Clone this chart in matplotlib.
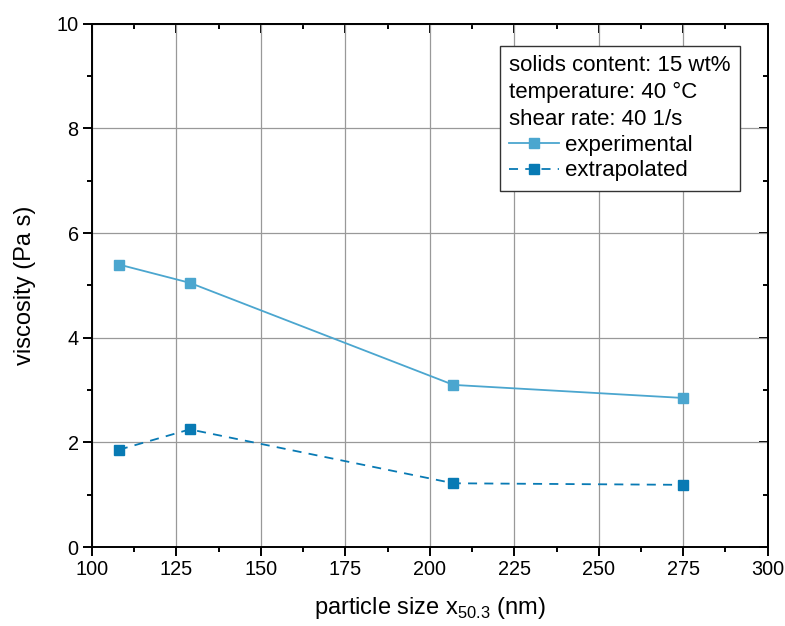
import matplotlib
matplotlib.use('Agg')
import matplotlib.pyplot as plt
from matplotlib.ticker import MultipleLocator

plt.rcParams['font.family'] = ['Liberation Sans', 'DejaVu Sans']
plt.rcParams['mathtext.fontset'] = 'custom'
plt.rcParams['mathtext.rm'] = 'Liberation Sans'

# data
size_nm = [108, 129, 207, 275]
visc_exp = [5.40, 5.05, 3.10, 2.85]
visc_extra = [1.86, 2.25, 1.22, 1.19]

col_exp = '#4ba6cf'
col_extra = '#087ab4'

fig = plt.figure(figsize=(7.85, 6.26), dpi=100)
ax = fig.add_axes([0.117, 0.126, 0.861, 0.836])

ax.plot(size_nm, visc_exp, '-', color=col_exp, lw=1.3, marker='s', ms=7.5,
        label='experimental', zorder=3)
ax.plot(size_nm, visc_extra, color=col_extra, lw=1.3, ls=(0, (5, 4)), marker='s', ms=7.5,
        label='extrapolated', zorder=3)

ax.set_xlim(100, 300)
ax.set_ylim(0, 10)
ax.xaxis.set_major_locator(MultipleLocator(25))
ax.xaxis.set_minor_locator(MultipleLocator(12.5))
ax.yaxis.set_major_locator(MultipleLocator(2))
ax.yaxis.set_minor_locator(MultipleLocator(1))
ax.grid(True, which='major', color='#999999', lw=0.9)
ax.set_axisbelow(True)

ax.tick_params(which='both', direction='out', labelsize=14.3, width=1.4, colors='black', pad=3)
ax.tick_params(which='major', length=6.5)
ax.tick_params(which='minor', length=3.6)
# mirrored ticks on top and right, pointing inward
axt = ax.secondary_xaxis('top')
axt.xaxis.set_major_locator(MultipleLocator(25))
axt.xaxis.set_minor_locator(MultipleLocator(12.5))
axt.tick_params(which='both', direction='in', labeltop=False, width=1.4)
axt.tick_params(which='major', length=6.5)
axt.tick_params(which='minor', length=3.6)
axr = ax.secondary_yaxis('right')
axr.yaxis.set_major_locator(MultipleLocator(2))
axr.yaxis.set_minor_locator(MultipleLocator(1))
axr.tick_params(which='both', direction='in', labelright=False, width=1.4)
axr.tick_params(which='major', length=6.5)
axr.tick_params(which='minor', length=3.6)
for s in ax.spines.values():
    s.set_linewidth(1.4)
axt.spines['top'].set_linewidth(1.4)
axr.spines['right'].set_linewidth(1.4)

ax.set_xlabel(r'particle size x$_{\mathregular{50.3}}$ (nm)', fontsize=17, labelpad=11)
ax.set_ylabel('viscosity (Pa s)', fontsize=17, labelpad=15)

leg = ax.legend(title='solids content: 15 wt%\ntemperature: 40 °C\nshear rate: 40 1/s',
                loc='upper right', bbox_to_anchor=(0.959, 0.958), fontsize=16,
                title_fontsize=16, alignment='left', fancybox=False, framealpha=1,
                edgecolor='#333333', handlelength=2.25, handletextpad=0.27,
                borderpad=0.42, labelspacing=0.2, borderaxespad=0)
leg.get_frame().set_linewidth(1.0)
leg.get_title().set_linespacing(1.38)

plt.savefig('out.png', dpi=100)
